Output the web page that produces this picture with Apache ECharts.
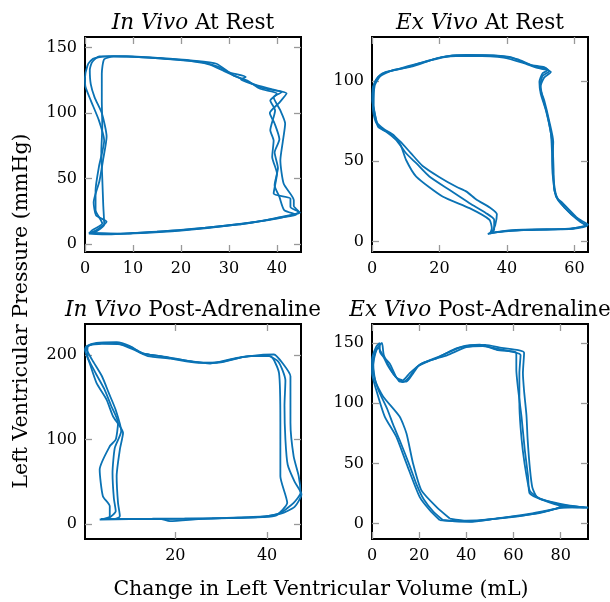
<!DOCTYPE html>
<html>
<head>
<meta charset="utf-8">
<script src="https://cdn.jsdelivr.net/npm/echarts@6/dist/echarts.min.js"></script>
<style>
  html, body { margin: 0; padding: 0; background: #fff; }
  #chart { width: 610px; height: 602px; }
</style>
</head>
<body>
<div id="chart"></div>
<script>
'use strict'

/*----- data: [volume mL, pressure mmHg] -----*/
var inVivoRest1 = [[0.8,8.1],[5,7.4],[10,8.5],[20,10.7],[30,14.5],[40,19.5],[44.5,24.6],[42.8,28.4],[42.8,34.8],[39.3,38.6],[40,53.8],[39,66.5],[39.3,79],[38.6,86.8],[39.6,102],[38.6,109.6],[40,114.7],[36.5,118.5],[33.7,125],[30.9,128.7],[27.4,137.6],[22.5,140],[15.5,142],[8.5,143.4],[5,143.4],[2.2,142],[1.2,140],[0.5,136],[0,127],[0.1,120],[1.2,109.6],[2.9,94.4],[4,79],[2.9,59],[2.2,41],[2.2,26],[3.6,15.7],[1.5,10.7],[0.8,8.1]];
var inVivoRest2 = [[1.2,8.6],[6,7.8],[15,9.5],[25,12.5],[35,16.5],[42,21.5],[44.8,24],[43.5,29],[43.5,33.5],[41.4,46],[40.7,64],[41.2,78],[41.7,92],[40.7,102],[39.3,112],[41,116],[37,119],[34.5,123],[32,127],[29,132],[26,137],[20,140.5],[12,142.5],[6,143.2],[4,141],[3.5,130],[3.5,110],[3.6,90],[3.4,70],[3.6,50],[3.8,30],[4,15],[2.5,10],[1.2,8.6]];
var inVivoRest3 = [[1,8.5],[8,8],[20,10.3],[32,15],[41,20.5],[44,22.5],[41.5,26],[40.5,36],[39.5,45],[40.2,58],[39.5,70],[40.5,80],[39.5,92],[38.5,100],[40.5,108],[42,115],[39,118],[35,122],[32.5,125.5],[33.5,127.5],[30,131],[28,135],[24,139],[16,141.5],[9,143],[3,143.2],[1.5,139],[1,133],[1.2,122],[2,112],[3.5,100],[4.5,82],[3.8,65],[3,48],[1.8,32],[2.3,22],[4.5,17],[2.5,11],[1,8.5]];

var exVivoRest1 = [[34.3,4.6],[36.7,5.8],[42.7,7.2],[50,7.5],[58.4,7.7],[62.4,9.3],[63.8,9.9],[62.4,11.4],[60.4,15.5],[56.5,23.8],[54.5,28],[53.5,42.4],[53.3,57],[53,67.3],[51.5,81.8],[50,92],[49.6,99.4],[50.5,104.6],[52,106.6],[51.5,107.7],[48.6,108.7],[44.6,111.8],[40.7,114.9],[32.8,116],[24.9,116],[17,112.8],[9.2,107.7],[4.2,105.6],[1.8,102.5],[0.3,96.3],[0.1,88],[0.8,79.7],[1.8,71.4],[4.2,68.3],[7.2,63.1],[10.1,54.9],[13.1,48.7],[17,40.4],[22.9,32.1],[28.9,23.8],[33.8,17.6],[36.2,13.5],[36.2,7.2],[34.3,4.6]];
var exVivoRest2 = [[35,5],[40,6.5],[48,7.3],[56,7.6],[61,8.5],[63.5,9.5],[61.5,12.5],[58.5,18],[55,26],[54,35],[53.5,50],[53.7,62],[52.5,75],[51,88],[49.8,96],[50.5,103],[52.5,106],[51,108.5],[47,110],[43,113.5],[36,115.8],[28,116.2],[20,114.5],[12,109],[6,106.5],[2.5,103],[0.8,97],[0.5,85],[1.5,74],[3.5,70],[6.5,66],[8.5,60],[10.1,50.7],[13.1,40.4],[20.9,28],[28.9,20.7],[34.8,13.5],[35.5,8],[35,5]];
var exVivoRest3 = [[35.5,5.5],[45,7],[55,7.6],[60,8],[64,10.5],[62,13],[59,17],[55.5,25],[54,32],[53.8,45],[53.5,60],[52.8,70],[51.8,80],[50.5,90],[50,97],[51,102],[53,105.5],[51.5,107],[49,108],[45,111],[39,114.5],[30,115.5],[22,115],[14,111],[8,107.5],[3,104.5],[1,100],[0.2,92],[0.3,82],[1.2,74],[3,70],[6,66.5],[8.5,62],[11.5,55],[15,47],[20,40],[25,34],[28,31],[31,26],[35,21],[37,17],[36.5,10],[35.5,5.5]];

var inVivoAdr1 = [[3.5,5.1],[10,5.5],[16.6,5.9],[18.8,3.2],[25,5.5],[31.2,7.1],[40,9.1],[42.9,13],[45.8,24.9],[47.3,36.8],[46.9,56.5],[45.8,80],[45.1,119.8],[45.1,175],[43.6,188.9],[41.5,200.8],[38.7,200.4],[33.4,196.8],[27.6,190.1],[23.2,192.9],[16.6,198.8],[14.4,200.8],[12.5,202.8],[10.1,210.7],[7.2,215.4],[2.8,214.6],[0.6,210.7],[0.3,206.7],[1.3,190.9],[2.8,167.2],[5,147.4],[6.4,127.6],[8.6,107.9],[7.9,88.1],[7.2,56.5],[7.5,24.9],[7.9,9.1],[6.4,5.1],[3.5,5.1]];
var inVivoAdr2 = [[4,5.5],[12,5.8],[22,6],[32,6.8],[39,8],[42,10],[44.4,24.9],[42.9,56.5],[42.9,119.8],[42.6,179],[40.7,198.8],[36,199],[30,192],[25,191],[19,196],[14,199],[11.5,205],[8,213],[4,213.5],[1,211],[0.8,200],[2.5,180],[4.5,160],[6,140],[7.5,120],[7,100],[5.7,92],[3.5,64.4],[4.2,32.8],[5.7,20.9],[5.7,9.1],[4,5.5]];
var inVivoAdr3 = [[3.8,5.8],[15,6],[28,6.5],[38,8],[43,12],[46,20],[47.5,35],[46,50],[44.5,70],[44,100],[43.8,140],[44,170],[42.5,192],[40,199.5],[35,198],[29,191],[24,192],[18,198],[13,202],[10.5,209],[6,214.5],[2,213],[0.5,209],[1.8,195],[4,175],[5.5,155],[7,135],[8.2,110],[6.8,90],[6.3,60],[6.6,30],[7,15],[5.5,7],[3.8,5.8]];

var exVivoAdr1 = [[28.7,2.8],[35,1.8],[41.4,1.4],[52.8,4.2],[69.7,8.3],[78.2,12.5],[81,14.4],[91.7,13.3],[81,14.4],[72.6,19.4],[66.9,25],[66.2,38.9],[64.8,61.1],[63.4,88.9],[62,111],[61.2,127.8],[61.2,141.7],[59.8,143],[52.8,144.4],[45.7,148.6],[38.6,147.2],[28.7,138.9],[20.2,131.9],[17.5,125],[14.6,118],[11.7,118],[7.5,133],[3.3,143],[3.3,150],[1.8,147],[0,136],[0,125],[1.8,111],[5.4,88.9],[10.3,72.2],[14.6,50],[20.2,22.2],[24.5,11.1],[28.7,2.8]];
var exVivoAdr2 = [[33,4.2],[40,2.5],[50,3.5],[62,6],[72,9.5],[80,13],[88,13.5],[91.5,13.2],[84,15],[76,18],[70,22],[68,30],[67,45],[66,70],[65.5,90],[64.5,110],[64,125],[64.5,142],[62,144],[55,146],[48,148.5],[42,148],[35,145],[27,137],[21,133],[16,125],[13,119],[10.5,121],[8,128],[5,140],[4.2,150],[2,145],[0.5,132],[1.5,118],[4.7,105.6],[11.7,88.9],[14.6,75],[17.4,50],[20.9,27.8],[27.3,13.9],[33,4.2]];
var exVivoAdr3 = [[30,3],[38,1.8],[46,2.5],[58,5.5],[68,8.5],[76,11.5],[82,14],[90,13.4],[80,15.5],[71,21],[67,27],[65.5,40],[64,60],[63,80],[62.5,100],[62.5,125],[63,140],[60,142.5],[54,145],[47,147.5],[40,146.5],[32,140],[24,135],[19,130],[15.5,121],[13,117.5],[10,122],[6.5,132],[4,142],[2.5,146],[1,140],[0.5,128],[2.5,112],[6.5,95],[9,82],[12,68],[16,48],[19,32],[22,20],[26,10],[30,3]];

/*----- tick labels -----*/
var ticksX1 = [0, 10, 20, 30, 40];
var ticksY1 = [0, 50, 100, 150];
var ticksX2 = [0, 20, 40, 60];
var ticksY2 = [0, 50, 100];
var ticksX3 = [20, 40];
var ticksY3 = [0, 100, 200];
var ticksX4 = [0, 20, 40, 60, 80];
var ticksY4 = [0, 50, 100, 150];

var serif = '"DejaVu Serif", serif';
var blue = '#0a72b4';

var panels = [
	{ name: 'In Vivo', rest: ' At Rest', grid: { left: 85, top: 37, width: 216, height: 215 },
	  x: [0, 45], y: [-6, 158], tx: ticksX1, ty: ticksY1, loops: [inVivoRest1, inVivoRest2, inVivoRest3] },
	{ name: 'Ex Vivo', rest: ' At Rest', grid: { left: 372, top: 37, width: 216, height: 215 },
	  x: [0, 64], y: [-6.6, 127.3], tx: ticksX2, ty: ticksY2, loops: [exVivoRest1, exVivoRest2, exVivoRest3] },
	{ name: 'In Vivo', rest: ' Post-Adrenaline', grid: { left: 85, top: 324, width: 216, height: 215 },
	  x: [0.3, 47.4], y: [-18, 237], tx: ticksX3, ty: ticksY3, loops: [inVivoAdr1, inVivoAdr2, inVivoAdr3] },
	{ name: 'Ex Vivo', rest: ' Post-Adrenaline', grid: { left: 372, top: 324, width: 216, height: 215 },
	  x: [0, 91.6], y: [-12.8, 165.8], tx: ticksX4, ty: ticksY4, loops: [exVivoAdr1, exVivoAdr2, exVivoAdr3] }
];

var grids = [], xAxes = [], yAxes = [], series = [], texts = [];
var tick = { show: true, inside: true, length: 7, lineStyle: { color: '#999', width: 1.3 } };

panels.forEach(function(p, i) {
	grids.push(Object.assign({ show: true, borderColor: '#000', borderWidth: 2, backgroundColor: 'transparent' }, p.grid));
	['bottom', 'top'].forEach(function(pos) {
		xAxes.push({
			type: 'value', gridIndex: i, position: pos, min: p.x[0], max: p.x[1],
			axisLine: { show: false, onZero: false }, splitLine: { show: false },
			axisTick: Object.assign({ customValues: p.tx }, tick),
			axisLabel: { show: pos === 'bottom', customValues: p.tx, margin: 9, fontFamily: serif, fontSize: 16, color: '#000' }
		});
	});
	['left', 'right'].forEach(function(pos) {
		yAxes.push({
			type: 'value', gridIndex: i, position: pos, min: p.y[0], max: p.y[1],
			axisLine: { show: false, onZero: false }, splitLine: { show: false },
			axisTick: Object.assign({ customValues: p.ty }, tick),
			axisLabel: { show: pos === 'left', customValues: p.ty, margin: 8, fontFamily: serif, fontSize: 16, color: '#000' }
		});
	});
	p.loops.forEach(function(loop) {
		series.push({
			type: 'line', xAxisIndex: i * 2, yAxisIndex: i * 2, data: loop,
			showSymbol: false, smooth: 0.2, lineStyle: { color: blue, width: 1.8 }
		});
	});
	texts.push({
		type: 'text', x: p.grid.left + p.grid.width / 2, y: p.grid.top - 14,
		style: {
			text: '{i|' + p.name + '}' + p.rest, align: 'center', verticalAlign: 'middle',
			font: '21.5px ' + serif, fill: '#000',
			rich: { i: { fontStyle: 'italic', fontFamily: serif, fontSize: 21.5 } }
		}
	});
});

texts.push({
	type: 'text', x: 22, y: 311, rotation: Math.PI / 2,
	style: { text: 'Left Ventricular Pressure (mmHg)', align: 'center', verticalAlign: 'middle', font: '20.5px ' + serif, fill: '#000' }
});
texts.push({
	type: 'text', x: 321, y: 590,
	style: { text: 'Change in Left Ventricular Volume (mL)', align: 'center', verticalAlign: 'middle', font: '20.5px ' + serif, fill: '#000' }
});

var chart = echarts.init(document.getElementById('chart'));
chart.setOption({
	animation: false,
	grid: grids,
	xAxis: xAxes,
	yAxis: yAxes,
	series: series,
	graphic: texts
});
</script>
</body>
</html>
